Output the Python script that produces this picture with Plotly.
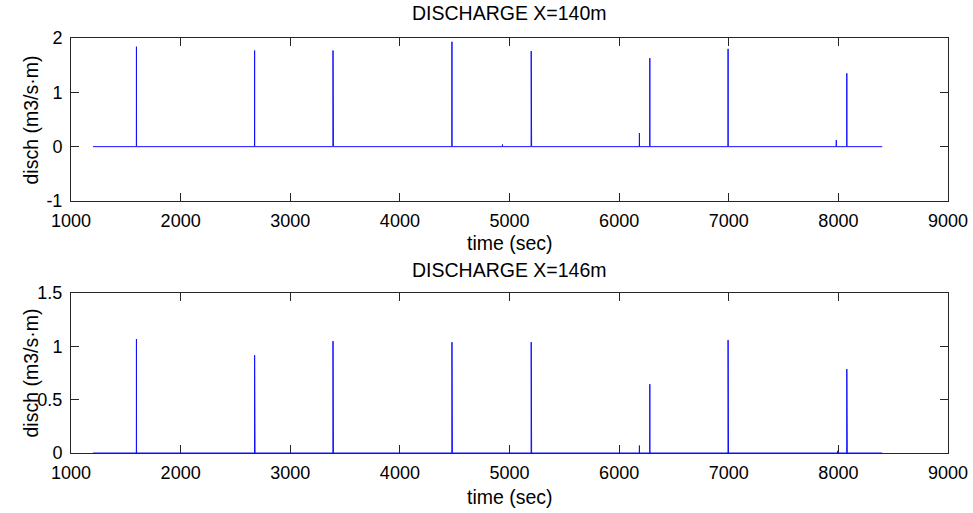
import plotly.graph_objects as go

# ---------------- data ----------------
t_start, t_end = 1200, 8400
event_times = [1597, 2675, 3390, 4475, 5198, 6280, 6994, 8077]

top_peaks = [1.84, 1.77, 1.77, 1.93, 1.76, 1.63, 1.80, 1.35]
top_second = [0.00, 0.00, 0.18, 0.00, 0.04, 0.00, 0.00, 0.00]
top_small_times = [4936, 6185, 7981]
top_small_vals = [0.04, 0.25, 0.12]

bot_peaks = [1.068, 0.917, 1.049, 1.039, 1.039, 0.645, 1.058, 0.786]
bot_second = [0.00, 0.02, 0.33, 0.28, 0.03, 0.00, 0.244, 0.21]
bot_small_times = [6185, 7994]
bot_small_vals = [0.07, 0.02]

x_ticks = [1000, 2000, 3000, 4000, 5000, 6000, 7000, 8000, 9000]
x_ticklabels = ["1000", "2000", "3000", "4000", "5000", "6000", "7000", "8000", "9000"]
top_yticks = [-1, 0, 1, 2]
top_yticklabels = ["-1", "0", "1", "2"]
bot_yticks = [0, 0.5, 1, 1.5]
bot_yticklabels = ["0", "0.5", "1", "1.5"]


def build_series(times, peaks, seconds, small_t, small_v):
    ev = []
    for t, p, s in zip(times, peaks, seconds):
        ev.append((t, p, s))
    for t, v in zip(small_t, small_v):
        ev.append((t, v, 0.0))
    ev.sort()
    xs, ys = [t_start], [0.0]
    for t, p, s in ev:
        xs += [t - 1, t, t + 1]
        ys += [0.0, p, 0.0]
        if s > 0:
            xs += [t + 3, t + 4]
            ys += [s, 0.0]
    xs.append(t_end)
    ys.append(0.0)
    return xs, ys


tx, ty = build_series(event_times, top_peaks, top_second, top_small_times, top_small_vals)
bx, by = build_series(event_times, bot_peaks, bot_second, bot_small_times, bot_small_vals)

W, H = 973, 513
FONT = "Liberation Sans, Arial, Helvetica, sans-serif"
FS = 19.5
TFS = 18

# plot-area pixel frame
L, R, T, B = 70.5, 948.0, 38.0, 453.0
PW = R - L
PH = B - T

fig = go.Figure()
fig.add_trace(go.Scatter(x=tx, y=ty, mode="lines", line=dict(color="#1010ff", width=1),
                         xaxis="x", yaxis="y", showlegend=False, hoverinfo="skip"))
fig.add_trace(go.Scatter(x=bx, y=by, mode="lines", line=dict(color="#1010ff", width=1),
                         xaxis="x2", yaxis="y2", showlegend=False, hoverinfo="skip"))


def ydom(top_px, bot_px):
    return [(B - bot_px) / PH, (B - top_px) / PH]


axis_common = dict(showline=True, linecolor="#262626", linewidth=1, mirror="ticks",
                   ticks="inside", ticklen=8, tickcolor="#262626", showgrid=False,
                   zeroline=False, automargin=False, layer="below traces",
                   tickfont=dict(family=FONT, size=TFS, color="black"))

fig.update_layout(
    width=W, height=H, margin=dict(l=L, r=W - R, t=T, b=H - B, pad=0, autoexpand=False),
    paper_bgcolor="white", plot_bgcolor="white",
    font=dict(family=FONT, size=FS, color="black"),
    xaxis=dict(domain=[0, 1], range=[1000, 9000], tickvals=x_ticks, ticktext=x_ticklabels,
               anchor="y", ticklabelstandoff=3, **axis_common),
    yaxis=dict(domain=ydom(38, 201), range=[-1, 2], tickvals=top_yticks, ticktext=top_yticklabels,
               anchor="x", ticklabelstandoff=4, **axis_common),
    xaxis2=dict(domain=[0, 1], range=[1000, 9000], tickvals=x_ticks, ticktext=x_ticklabels,
                anchor="y2", ticklabelstandoff=3, **axis_common),
    yaxis2=dict(domain=ydom(293, 453), range=[0, 1.5], tickvals=bot_yticks, ticktext=bot_yticklabels,
                anchor="x2", ticklabelstandoff=4, **axis_common),
)


def px(xp):
    return (xp - L) / PW


def py(yp):
    return (B - yp) / PH


xc = px((L + R) / 2)
anns = [
    dict(text="DISCHARGE X=140m", x=xc, y=py(13)),
    dict(text="time (sec)", x=xc, y=py(243)),
    dict(text="DISCHARGE X=146m", x=xc, y=py(270)),
    dict(text="time (sec)", x=xc, y=py(497)),
    dict(text="disch (m3/s·m)", x=px(30), y=py(120), textangle=-90),
    dict(text="disch (m3/s·m)", x=px(30), y=py(373), textangle=-90),
]
for a in anns:
    fig.add_annotation(xref="paper", yref="paper", showarrow=False, xanchor="center",
                       yanchor="middle", font=dict(family=FONT, size=FS, color="black"), **a)

fig.write_html("out.html")
